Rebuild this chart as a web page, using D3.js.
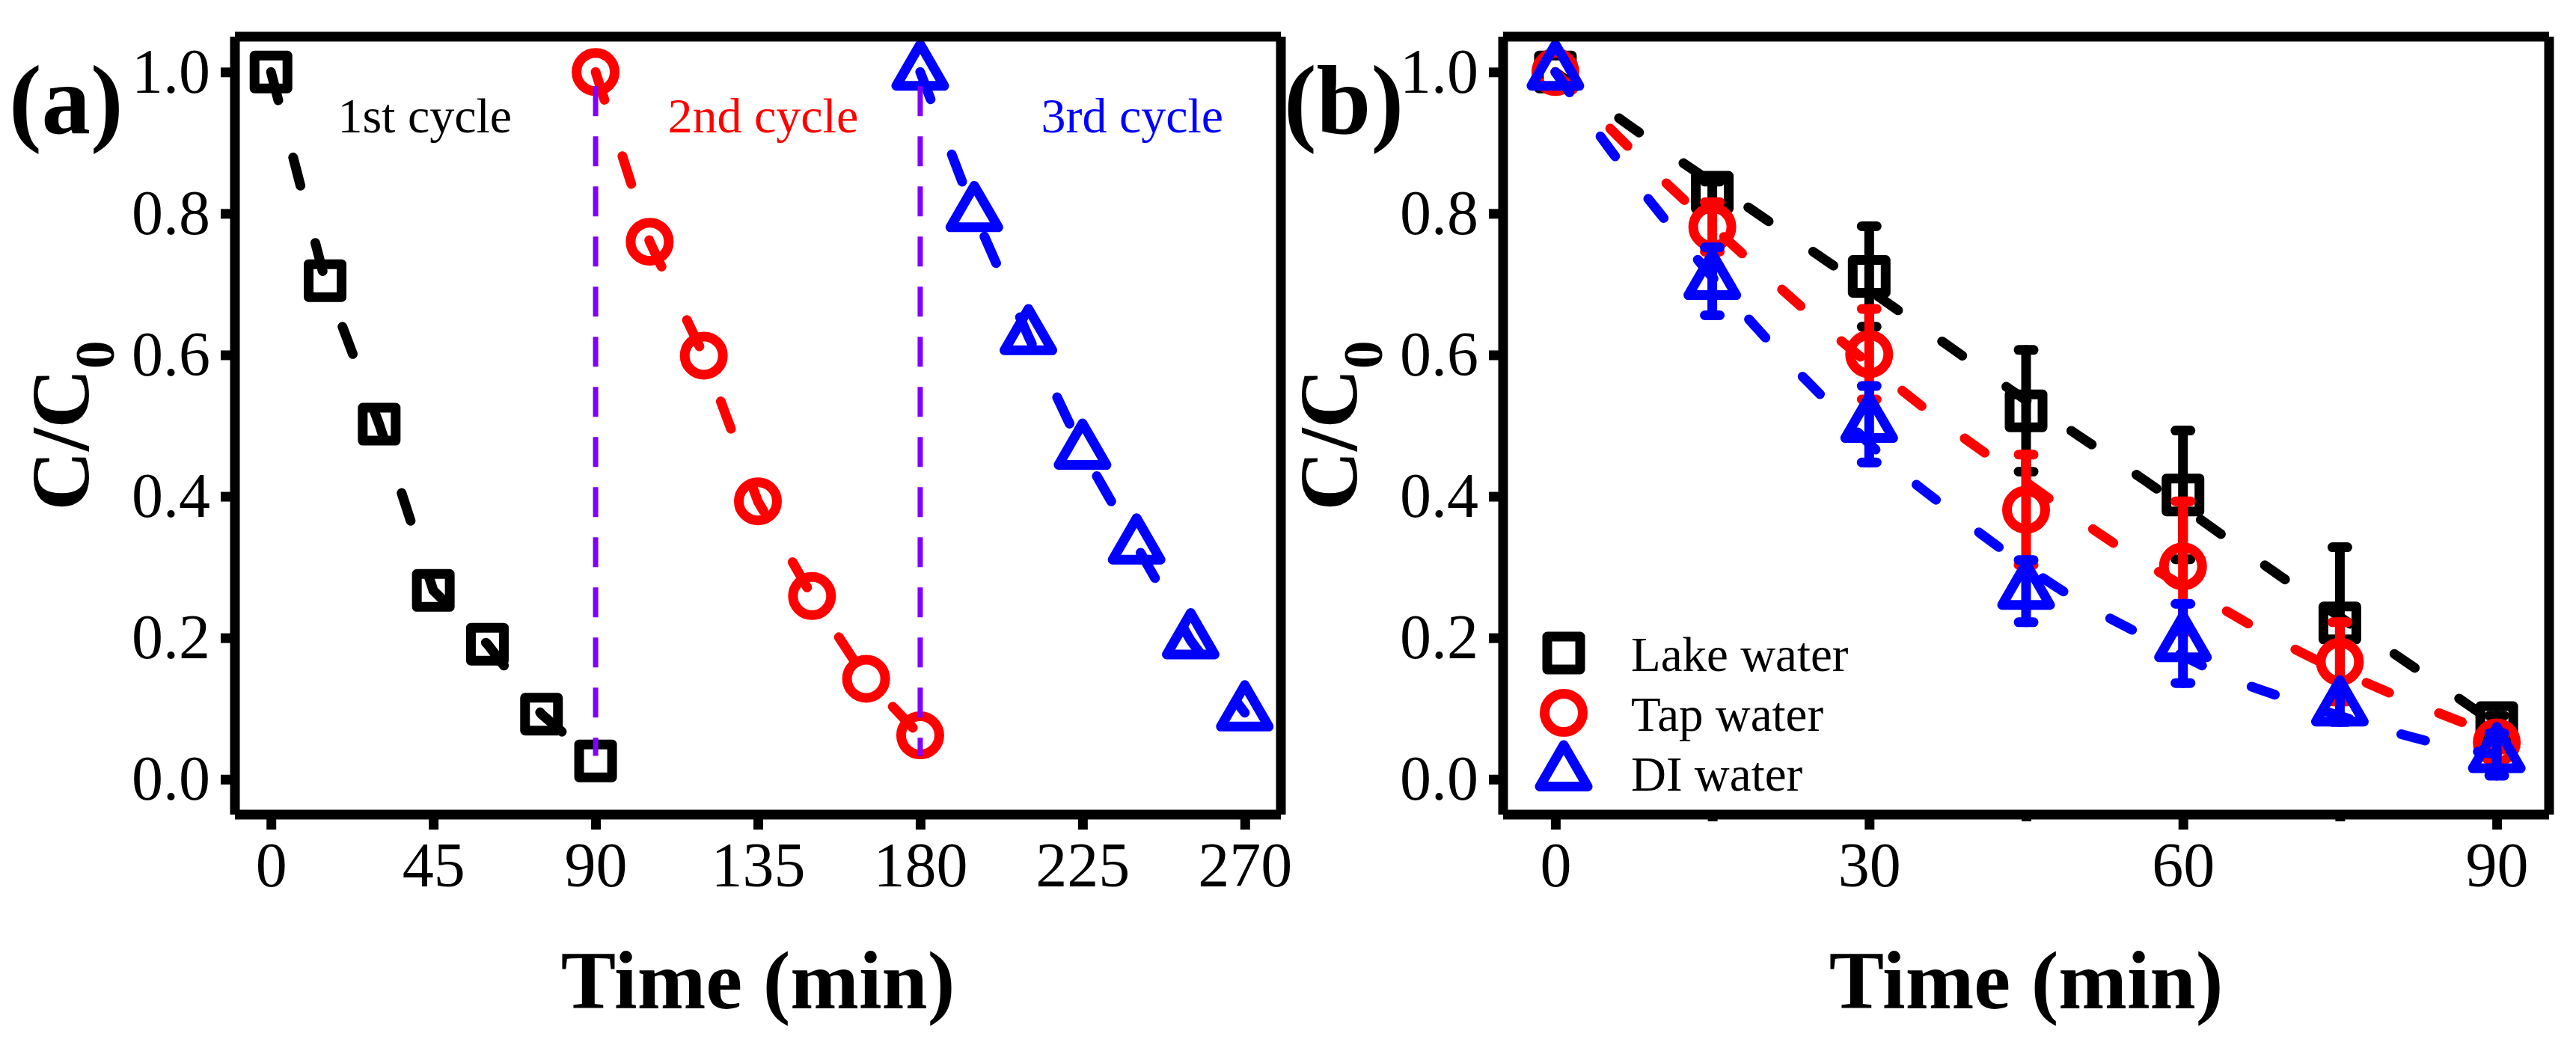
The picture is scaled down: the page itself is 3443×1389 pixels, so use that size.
<!DOCTYPE html>
<html>
<head>
<meta charset="utf-8">
<script src="https://cdn.jsdelivr.net/npm/d3@7"></script>
<style>
  html, body { margin: 0; padding: 0; background: #fff; }
  svg { display: block; }
</style>
</head>
<body>
<div id="chart"></div>
<script>
// ── (a) three successive cycles ──
const cycleTime = [
  [0, 15, 30, 45, 60, 75, 90],
  [90, 105, 120, 135, 150, 165, 180],
  [180, 195, 210, 225, 240, 255, 270]
];
const cycleValues = [
  [1.0, 0.705, 0.502, 0.267, 0.191, 0.092, 0.026],
  [1.0, 0.760, 0.599, 0.393, 0.259, 0.142, 0.062],
  [1.0, 0.800, 0.626, 0.464, 0.330, 0.196, 0.094]
];
const cycleNames  = ["1st cycle", "2nd cycle", "3rd cycle"];
const cycleLabelX = [18.5, 110, 213.5];
const cycleLabelY = 0.915;
const dividerX = [90, 180];
const dividerY = [0.98, 0.033];
const xTicksA = [0, 45, 90, 135, 180, 225, 270];
const yTicks  = [0, 0.2, 0.4, 0.6, 0.8, 1.0];

// ── (b) water matrices ──
const timeB = [0, 15, 30, 45, 60, 75, 90];
const waterNames = ["Lake water", "Tap water", "DI water"];
const lakeMean = [1.0, 0.830, 0.711, 0.521, 0.402, 0.221, 0.080];
const lakeErr  = [0, 0.015, 0.071, 0.086, 0.091, 0.107, 0.010];
const tapMean  = [1.0, 0.781, 0.601, 0.381, 0.301, 0.166, 0.052];
const tapErr   = [0, 0.035, 0.064, 0.078, 0.092, 0.056, 0.010];
const diMean   = [1.0, 0.704, 0.502, 0.266, 0.192, 0.101, 0.035];
const diErr    = [0, 0.048, 0.054, 0.044, 0.056, 0.020, 0.030];
// dashed fit curves, read along the dashes
const lakeFitT = [0, 7, 19.3, 31.9, 43.6, 56.4, 70.2, 82.5, 90];
const lakeFitV = [1.0, 0.925, 0.800, 0.672, 0.550, 0.422, 0.278, 0.154, 0.077];
const tapFitT  = [0, 7, 12.9, 19, 25, 31.1, 37.1, 43.4, 49.3, 55.2, 63.2, 71.2, 79.3, 86.8, 90];
const tapFitV  = [1.0, 0.894, 0.811, 0.728, 0.649, 0.574, 0.504, 0.437, 0.375, 0.316, 0.246, 0.180, 0.125, 0.080, 0.062];
const diFitT   = [0, 5.4, 10, 20.3, 26, 31.8, 38, 50.4, 57.3, 64.3, 72, 79.8, 87, 90];
const diFitV   = [1.0, 0.887, 0.800, 0.621, 0.534, 0.450, 0.377, 0.249, 0.195, 0.144, 0.104, 0.068, 0.042, 0.035];
const xTicksB = [0, 30, 60, 90];
const xMinorB = [15, 45, 75];

// ── look ──
const FONT   = '"Liberation Serif", "Times New Roman", Times, serif';
const colors = ["#000000", "#ff0000", "#0000ff"];
const shapes = [d3.symbolSquare, d3.symbolCircle, d3.symbolTriangle];
const sizes  = [1936, 2043, 1775];
const STROKE = 13;

const W = 3443, H = 1389;
const frame  = { top: 49, bottom: 1089 };
const panelA = { left: 314, right: 1712 };
const panelB = { left: 2009, right: 3407 };

const svg = d3.select("#chart").append("svg")
  .attr("width", W).attr("height", H)
  .attr("font-family", FONT);

const xA = d3.scaleLinear().domain([-10, 280]).range([panelA.left, panelA.right]);
const yA = d3.scaleLinear().domain([-0.05, 1.05]).range([frame.bottom, frame.top]);
const xB = d3.scaleLinear().domain([-5, 95]).range([panelB.left, panelB.right]);
const yB = yA.copy();

// ── axes + box ──
const styleAxis = (ax) => {
  ax.attr("font-family", FONT).attr("font-size", 84);
  ax.select(".domain").remove();
  ax.selectAll(".tick line").attr("stroke", "#000").attr("stroke-width", STROKE);
  ax.selectAll(".tick text").attr("fill", "#000");
};

const drawAxes = (g, x, y, xTicks, minor) => {
  const bottom = g.append("g").attr("transform", `translate(0,${frame.bottom})`)
    .call(d3.axisBottom(x).tickValues(xTicks).tickFormat(d3.format("d")).tickSize(20).tickPadding(16));
  styleAxis(bottom);
  if (minor) {
    const m = g.append("g").attr("transform", `translate(0,${frame.bottom})`)
      .call(d3.axisBottom(x).tickValues(minor).tickFormat("").tickSize(9));
    styleAxis(m);
  }
  const left = g.append("g").attr("transform", `translate(${x.range()[0]},0)`)
    .call(d3.axisLeft(y).tickValues(yTicks).tickFormat(d3.format(".1f")).tickSize(19).tickPadding(14));
  styleAxis(left);
};

const drawBox = (g, x) => {
  const [l, r] = x.range();
  const [b, t] = [frame.bottom, frame.top];
  g.append("g").attr("stroke", "#000").attr("stroke-width", STROKE).attr("stroke-linecap", "butt")
    .selectAll("line")
    .data([[l, t, l, b], [l, t, r, t], [r, t, r, b], [l, b, r, b]])
    .join("line")
    .attr("x1", (d) => d[0]).attr("y1", (d) => d[1])
    .attr("x2", (d) => d[2]).attr("y2", (d) => d[3]);
};

const drawTitles = (g, x, tag, tagX) => {
  const [l, r] = x.range();
  g.append("text").attr("x", (l + r) / 2).attr("y", 1348)
    .attr("text-anchor", "middle").attr("font-size", 110).attr("font-weight", "bold")
    .text("Time (min)");
  const yl = g.append("text")
    .attr("transform", `translate(${l - 196},${(frame.top + frame.bottom) / 2}) rotate(-90)`)
    .attr("text-anchor", "middle").attr("font-size", 110).attr("font-weight", "bold");
  yl.append("tspan").text("C/C");
  yl.append("tspan").attr("font-size", 75).attr("dy", 34).text("0");
  g.append("text").attr("x", tagX).attr("y", 178)
    .attr("font-size", 131).attr("font-weight", "bold").text(tag);
};

const symbol = (i) => d3.symbol().type(shapes[i]).size(sizes[i])();

// ── panel (a) ──
const gA = svg.append("g");
const lineA = d3.line().x((d) => xA(d[0])).y((d) => yA(d[1]));

cycleTime.forEach((ts, i) => {
  const pts = ts.map((t, k) => [t, cycleValues[i][k]]);
  gA.append("path").datum(pts)
    .attr("d", lineA).attr("fill", "none")
    .attr("stroke", colors[i]).attr("stroke-width", STROKE)
    .attr("stroke-linecap", "round").attr("stroke-dasharray", "39 79");
  gA.append("g").selectAll("path").data(pts).join("path")
    .attr("d", symbol(i))
    .attr("transform", (d) => `translate(${xA(d[0])},${yA(d[1])})`)
    .attr("fill", "none").attr("stroke", colors[i]).attr("stroke-width", STROKE)
    .attr("stroke-linejoin", "round");
  gA.append("text").attr("x", xA(cycleLabelX[i])).attr("y", yA(cycleLabelY))
    .attr("font-size", 66).attr("fill", colors[i]).text(cycleNames[i]);
});

gA.append("g").selectAll("line").data(dividerX).join("line")
  .attr("x1", (d) => xA(d)).attr("x2", (d) => xA(d))
  .attr("y1", yA(dividerY[0])).attr("y2", yA(dividerY[1]))
  .attr("stroke", "#8000ff").attr("stroke-width", 7).attr("stroke-dasharray", "40 27");

drawAxes(gA, xA, yA, xTicksA, null);
drawBox(gA, xA);
drawTitles(gA, xA, "(a)", 12);

// ── panel (b) ──
const gB = svg.append("g");
const fitLine = d3.line().curve(d3.curveMonotoneX).x((d) => xB(d[0])).y((d) => yB(d[1]));
const means = [lakeMean, tapMean, diMean];
const errs  = [lakeErr, tapErr, diErr];
const fits  = [[lakeFitT, lakeFitV], [tapFitT, tapFitV], [diFitT, diFitV]];

means.forEach((mean, i) => {
  const pts = timeB.map((t, k) => ({ t, v: mean[k], e: errs[i][k] }));
  const fit = fits[i][0].map((t, k) => [t, fits[i][1][k]]);
  const s = gB.append("g").attr("stroke", colors[i]).attr("stroke-width", STROKE).attr("fill", "none");

  s.append("path").datum(fit).attr("d", fitLine)
    .attr("stroke-linecap", "round").attr("stroke-dasharray", "33 72");

  const bars = s.append("g").attr("stroke-linecap", "round")
    .selectAll("g").data(pts.filter((d) => d.e > 0)).join("g")
    .attr("transform", (d) => `translate(${xB(d.t)},0)`);
  bars.append("line")
    .attr("y1", (d) => yB(d.v - d.e)).attr("y2", (d) => yB(d.v + d.e));
  bars.append("line").attr("x1", -10).attr("x2", 10)
    .attr("y1", (d) => yB(d.v + d.e)).attr("y2", (d) => yB(d.v + d.e));
  bars.append("line").attr("x1", -10).attr("x2", 10)
    .attr("y1", (d) => yB(d.v - d.e)).attr("y2", (d) => yB(d.v - d.e));

  s.append("g").selectAll("path").data(pts).join("path")
    .attr("d", symbol(i)).attr("stroke-linejoin", "round")
    .attr("transform", (d) => `translate(${xB(d.t)},${yB(d.v)})`);
});

// legend
const legend = gB.append("g").selectAll("g").data(waterNames).join("g")
  .attr("transform", (d, i) => `translate(${panelB.left + 81},${897 + i * 80})`);
legend.append("path")
  .attr("d", (d, i) => symbol(i)).attr("transform", "translate(0,-24)")
  .attr("fill", "none").attr("stroke", (d, i) => colors[i])
  .attr("stroke-width", STROKE).attr("stroke-linejoin", "round");
legend.append("text").attr("x", 90).attr("font-size", 65).attr("fill", "#000").text((d) => d);

drawAxes(gB, xB, yB, xTicksB, xMinorB);
drawBox(gB, xB);
drawTitles(gB, xB, "(b)", 1716);
</script>
</body>
</html>
